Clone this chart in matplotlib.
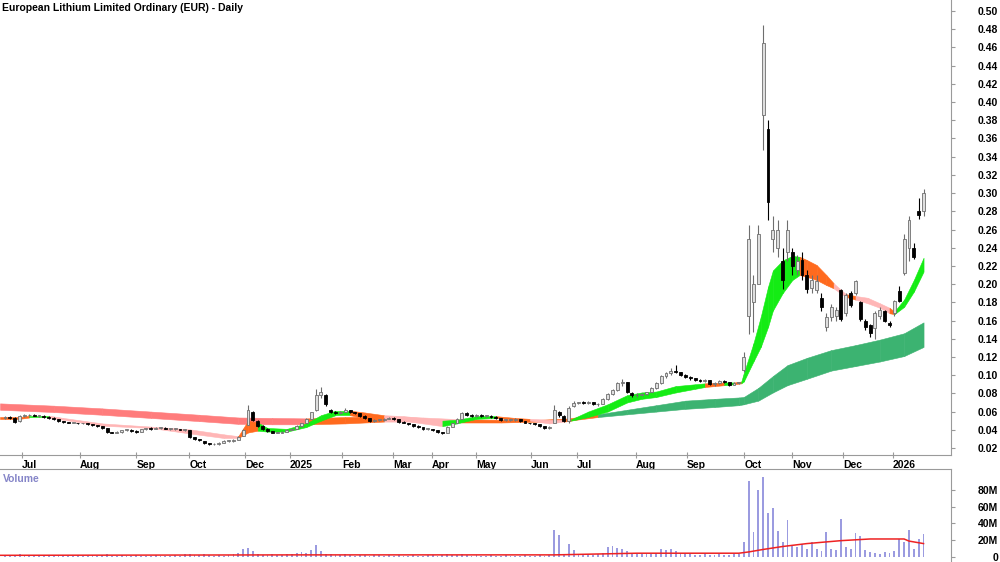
import matplotlib
matplotlib.use("Agg")
import matplotlib.pyplot as plt
import numpy as np

plt.rcParams["font.family"] = ["Liberation Sans", "DejaVu Sans"]

# ---- price data: one candle per two trading days, Jul 2024 .. Jan 2026 ----
opens = [
    0.053, 0.054, 0.053, 0.050, 0.055, 0.056, 0.056, 0.055, 0.055, 0.054,
    0.053, 0.052, 0.050, 0.049, 0.048, 0.048, 0.047, 0.047, 0.046, 0.045,
    0.044, 0.042, 0.038, 0.037, 0.038, 0.040, 0.040, 0.039, 0.038, 0.041,
    0.042, 0.041, 0.042, 0.042, 0.041, 0.041, 0.041, 0.040, 0.040, 0.032,
    0.030, 0.028, 0.025, 0.024, 0.024, 0.026, 0.028, 0.028, 0.029, 0.033,
    0.045, 0.060, 0.050, 0.044, 0.041, 0.039, 0.037, 0.037, 0.038, 0.040,
    0.041, 0.044, 0.047, 0.052, 0.062, 0.078, 0.078, 0.062, 0.060, 0.058,
    0.060, 0.062, 0.059, 0.058, 0.055, 0.053, 0.050, 0.051, 0.051, 0.052,
    0.053, 0.052, 0.049, 0.048, 0.046, 0.044, 0.043, 0.041, 0.041, 0.040,
    0.038, 0.037, 0.043, 0.047, 0.052, 0.058, 0.056, 0.055, 0.056, 0.055,
    0.055, 0.054, 0.053, 0.051, 0.051, 0.051, 0.052, 0.050, 0.048, 0.047,
    0.046, 0.044, 0.042, 0.048, 0.060, 0.055, 0.050, 0.066, 0.069, 0.070,
    0.069, 0.071, 0.068, 0.068, 0.074, 0.079, 0.084, 0.091, 0.092, 0.080,
    0.078, 0.078, 0.079, 0.081, 0.086, 0.091, 0.099, 0.102, 0.105, 0.103,
    0.100, 0.098, 0.097, 0.095, 0.094, 0.095, 0.090, 0.091, 0.094, 0.092,
    0.089, 0.091, 0.106, 0.165, 0.180, 0.200, 0.386, 0.370, 0.250, 0.240,
    0.225, 0.235, 0.235, 0.215, 0.226, 0.210, 0.196, 0.193, 0.185, 0.153,
    0.164, 0.165, 0.193, 0.168, 0.190, 0.190, 0.180, 0.160, 0.155, 0.152,
    0.165, 0.170, 0.157, 0.168, 0.192, 0.212, 0.240, 0.240, 0.280, 0.280,
]
highs = [
    0.055, 0.055, 0.054, 0.056, 0.057, 0.057, 0.057, 0.056, 0.056, 0.055,
    0.054, 0.052, 0.050, 0.049, 0.049, 0.048, 0.048, 0.047, 0.046, 0.045,
    0.044, 0.042, 0.038, 0.039, 0.040, 0.041, 0.041, 0.040, 0.041, 0.042,
    0.043, 0.043, 0.043, 0.043, 0.042, 0.042, 0.041, 0.041, 0.040, 0.032,
    0.030, 0.028, 0.025, 0.025, 0.027, 0.029, 0.029, 0.030, 0.033, 0.041,
    0.067, 0.061, 0.051, 0.045, 0.042, 0.039, 0.038, 0.039, 0.041, 0.042,
    0.045, 0.048, 0.053, 0.060, 0.085, 0.087, 0.079, 0.063, 0.061, 0.061,
    0.064, 0.062, 0.060, 0.058, 0.056, 0.053, 0.052, 0.052, 0.053, 0.054,
    0.054, 0.052, 0.050, 0.048, 0.046, 0.045, 0.043, 0.042, 0.041, 0.040,
    0.038, 0.044, 0.048, 0.053, 0.059, 0.059, 0.057, 0.057, 0.057, 0.056,
    0.056, 0.055, 0.053, 0.052, 0.052, 0.053, 0.052, 0.050, 0.048, 0.047,
    0.046, 0.044, 0.044, 0.067, 0.061, 0.056, 0.066, 0.072, 0.071, 0.072,
    0.072, 0.071, 0.069, 0.075, 0.080, 0.085, 0.092, 0.096, 0.093, 0.081,
    0.080, 0.080, 0.082, 0.087, 0.092, 0.100, 0.104, 0.108, 0.111, 0.104,
    0.101, 0.099, 0.097, 0.096, 0.096, 0.095, 0.092, 0.095, 0.095, 0.092,
    0.092, 0.093, 0.125, 0.265, 0.210, 0.265, 0.485, 0.380, 0.275, 0.270,
    0.240, 0.270, 0.240, 0.232, 0.235, 0.215, 0.210, 0.210, 0.190, 0.168,
    0.178, 0.175, 0.195, 0.190, 0.192, 0.205, 0.182, 0.162, 0.156, 0.170,
    0.175, 0.172, 0.160, 0.183, 0.198, 0.255, 0.275, 0.245, 0.295, 0.305,
]
lows = [
    0.052, 0.052, 0.048, 0.049, 0.054, 0.055, 0.055, 0.054, 0.053, 0.052,
    0.051, 0.049, 0.048, 0.048, 0.047, 0.046, 0.046, 0.045, 0.044, 0.043,
    0.041, 0.037, 0.036, 0.036, 0.037, 0.039, 0.038, 0.037, 0.038, 0.040,
    0.040, 0.041, 0.041, 0.041, 0.040, 0.040, 0.040, 0.039, 0.031, 0.029,
    0.028, 0.024, 0.023, 0.023, 0.023, 0.026, 0.027, 0.027, 0.029, 0.033,
    0.045, 0.050, 0.043, 0.040, 0.038, 0.036, 0.036, 0.036, 0.038, 0.040,
    0.041, 0.043, 0.047, 0.052, 0.061, 0.075, 0.066, 0.058, 0.057, 0.057,
    0.060, 0.058, 0.057, 0.054, 0.052, 0.049, 0.049, 0.050, 0.050, 0.052,
    0.051, 0.048, 0.047, 0.045, 0.043, 0.042, 0.040, 0.040, 0.039, 0.037,
    0.035, 0.037, 0.043, 0.047, 0.052, 0.055, 0.054, 0.054, 0.054, 0.054,
    0.053, 0.052, 0.050, 0.050, 0.050, 0.050, 0.049, 0.047, 0.046, 0.045,
    0.043, 0.041, 0.041, 0.047, 0.054, 0.049, 0.048, 0.065, 0.068, 0.068,
    0.068, 0.067, 0.066, 0.068, 0.073, 0.078, 0.083, 0.088, 0.080, 0.076,
    0.076, 0.077, 0.078, 0.081, 0.085, 0.090, 0.097, 0.100, 0.102, 0.099,
    0.097, 0.095, 0.094, 0.093, 0.093, 0.089, 0.088, 0.090, 0.091, 0.088,
    0.089, 0.090, 0.104, 0.145, 0.147, 0.200, 0.347, 0.270, 0.235, 0.230,
    0.195, 0.225, 0.210, 0.210, 0.205, 0.190, 0.190, 0.190, 0.170, 0.148,
    0.160, 0.160, 0.160, 0.165, 0.175, 0.188, 0.160, 0.150, 0.142, 0.140,
    0.162, 0.158, 0.153, 0.165, 0.180, 0.210, 0.225, 0.228, 0.272, 0.275,
]
closes = [
    0.054, 0.053, 0.049, 0.055, 0.056, 0.056, 0.055, 0.055, 0.054, 0.053,
    0.052, 0.050, 0.049, 0.048, 0.048, 0.047, 0.047, 0.046, 0.045, 0.044,
    0.042, 0.038, 0.037, 0.038, 0.040, 0.040, 0.039, 0.038, 0.041, 0.042,
    0.041, 0.042, 0.042, 0.041, 0.041, 0.041, 0.040, 0.040, 0.032, 0.030,
    0.029, 0.025, 0.024, 0.024, 0.026, 0.028, 0.028, 0.029, 0.032, 0.040,
    0.062, 0.051, 0.044, 0.041, 0.039, 0.037, 0.037, 0.038, 0.040, 0.041,
    0.044, 0.047, 0.052, 0.059, 0.078, 0.082, 0.068, 0.060, 0.058, 0.060,
    0.062, 0.059, 0.058, 0.055, 0.053, 0.050, 0.051, 0.051, 0.052, 0.053,
    0.052, 0.049, 0.048, 0.046, 0.044, 0.043, 0.041, 0.041, 0.040, 0.038,
    0.037, 0.043, 0.047, 0.052, 0.058, 0.056, 0.055, 0.056, 0.055, 0.055,
    0.054, 0.053, 0.051, 0.051, 0.051, 0.052, 0.050, 0.048, 0.047, 0.046,
    0.044, 0.042, 0.043, 0.062, 0.056, 0.050, 0.064, 0.069, 0.070, 0.069,
    0.071, 0.068, 0.068, 0.074, 0.079, 0.084, 0.091, 0.093, 0.081, 0.078,
    0.078, 0.079, 0.081, 0.086, 0.091, 0.099, 0.102, 0.105, 0.103, 0.100,
    0.098, 0.097, 0.095, 0.094, 0.095, 0.090, 0.091, 0.094, 0.092, 0.089,
    0.091, 0.092, 0.120, 0.250, 0.200, 0.255, 0.465, 0.290, 0.260, 0.260,
    0.205, 0.260, 0.220, 0.225, 0.210, 0.195, 0.205, 0.203, 0.175, 0.164,
    0.175, 0.172, 0.162, 0.188, 0.177, 0.203, 0.162, 0.153, 0.146, 0.168,
    0.172, 0.160, 0.155, 0.181, 0.182, 0.250, 0.270, 0.230, 0.276, 0.300,
]
# volume in millions
volumes = [
    1, 2, 1, 3, 2, 1, 2, 1, 1, 2,
    1, 1, 2, 1, 1, 2, 1, 1, 2, 1,
    2, 3, 1, 1, 2, 1, 1, 2, 1, 1,
    1, 2, 1, 1, 1, 2, 1, 3, 4, 2,
    2, 3, 2, 1, 2, 1, 2, 3, 5, 9,
    11, 7, 4, 2, 2, 3, 2, 2, 3, 4,
    5, 6, 5, 8, 14, 7, 4, 3, 2, 2,
    3, 2, 1, 2, 2, 1, 2, 2, 1, 2,
    1, 2, 1, 1, 2, 1, 1, 2, 2, 1,
    2, 3, 2, 2, 3, 2, 1, 2, 1, 1,
    2, 1, 1, 2, 1, 1, 1, 2, 1, 1,
    2, 1, 2, 32, 26, 4, 15, 8, 4, 3,
    3, 2, 3, 5, 12, 13, 11, 10, 7, 4,
    3, 3, 4, 3, 5, 9, 8, 9, 7, 5,
    3, 3, 2, 2, 3, 2, 2, 3, 2, 2,
    3, 3, 18, 91, 30, 80, 95, 52, 59, 31,
    18, 44, 14, 12, 16, 10, 18, 9, 7, 30,
    10, 8, 45, 12, 9, 29, 25, 8, 6, 5,
    4, 6, 5, 7, 22, 18, 32, 10, 21, 28,
]

# moving-average ribbons (knot position in candle units, upper, lower, colour of each span)
short_x = [-1.03, 3, 5, 9, 12, 20, 30, 38, 45, 48, 50, 52, 54, 58, 62, 65, 68, 71, 74, 78,
           82, 86, 90, 93, 97, 101, 105, 108, 112, 115, 116.5, 120, 124, 128, 131, 134, 138,
           142, 144, 148, 150, 151.5, 152, 154, 155.5, 157, 158, 160, 162, 163.5, 165, 167,
           169, 170.5, 173, 175, 177.5, 180, 182, 183, 185, 187, 189]
short_hi = [0.054, 0.054, 0.0555, 0.0555, 0.053, 0.047, 0.0435, 0.0405, 0.035, 0.033, 0.050,
            0.048, 0.042, 0.041, 0.047, 0.056, 0.061, 0.061, 0.059, 0.056, 0.055, 0.053, 0.050,
            0.051, 0.055, 0.055, 0.053, 0.052, 0.051, 0.051, 0.0515, 0.060, 0.068, 0.078, 0.081,
            0.082, 0.088, 0.090, 0.091, 0.092, 0.092, 0.093, 0.102, 0.135, 0.164, 0.197, 0.215,
            0.226, 0.231, 0.230, 0.2265, 0.221, 0.210, 0.201, 0.189, 0.187, 0.185, 0.179, 0.174,
            0.170, 0.183, 0.2045, 0.229]
short_lo = [0.052, 0.052, 0.0535, 0.0535, 0.051, 0.0445, 0.042, 0.036, 0.031, 0.031, 0.037,
            0.039, 0.038, 0.038, 0.043, 0.050, 0.056, 0.056, 0.053, 0.051, 0.050, 0.047, 0.044,
            0.047, 0.052, 0.053, 0.051, 0.050, 0.047, 0.049, 0.050, 0.054, 0.060, 0.070, 0.074,
            0.076, 0.081, 0.085, 0.087, 0.089, 0.090, 0.091, 0.093, 0.115, 0.131, 0.153, 0.171,
            0.190, 0.2045, 0.210, 0.208, 0.2045, 0.199, 0.1954, 0.186, 0.183, 0.179, 0.174,
            0.168, 0.167, 0.175, 0.1917, 0.2137]
short_state = list("oog" + "p" * 6 + "oo" + "g" * 6 + "oo" + "ppp" + "ggg" + "oo" + "pp" + "o"
                   + "g" * 8 + "ogog" + "g" * 7 + "oooo" + "p" + "o" + "ppp" + "o" + "ggg")

long_x = [-1.03, 10, 20, 30, 40, 48, 55, 62, 70, 78, 86, 94, 102, 110, 116, 122, 128, 134,
          140, 146, 151, 152, 155, 158, 161, 165, 170, 175, 180, 185, 189]
long_hi = [0.069, 0.0665, 0.0635, 0.060, 0.0565, 0.0535, 0.053, 0.0525, 0.054, 0.0545, 0.0535,
           0.0515, 0.051, 0.051, 0.0525, 0.057, 0.062, 0.067, 0.072, 0.074, 0.0755, 0.076,
           0.086, 0.099, 0.111, 0.119, 0.1275, 0.133, 0.139, 0.146, 0.158]
long_lo = [0.062, 0.0595, 0.0565, 0.053, 0.0495, 0.0465, 0.046, 0.046, 0.047, 0.049, 0.049,
           0.048, 0.048, 0.049, 0.050, 0.054, 0.057, 0.060, 0.063, 0.065, 0.067, 0.068, 0.072,
           0.081, 0.089, 0.096, 0.105, 0.110, 0.115, 0.121, 0.131]
long_state = list("rrrrrrr" + "oo" + "pp" + "oooo" + "d" * 15)

vol_ma_x = [-1.03, 60, 113, 130, 151, 153, 156, 160, 165, 172, 178, 185, 186, 189]
vol_ma = [2, 2.5, 2.5, 4.5, 4.5, 6, 9, 12.5, 16, 19.5, 21.5, 21.5, 19, 16]

month_pos = [3.5, 15.4, 27.0, 37.9, 49.4, 58.6, 69.3, 79.8, 87.9, 96.9, 108.2, 117.7,
             129.8, 140.3, 152.1, 161.9, 172.4, 182.7]
month_labels = ["Jul", "Aug", "Sep", "Oct", "Dec", "2025", "Feb", "Mar", "Apr", "May", "Jun",
                "Jul", "Aug", "Sep", "Oct", "Nov", "Dec", "2026"]

colours = {
    "g": "#14ec14",
    "o": "#ff6a1e",
    "p": "#ffb6b6",
    "r": "#ff7c7c",
    "d": "#3cb371",
}
axis_grey = "#9a9a9a"

fig = plt.figure(figsize=(10, 5.62), dpi=100)
ax = fig.add_axes([0, 1 - 455 / 562, 0.951, 455 / 562])
axv = fig.add_axes([0, 0, 0.951, 1 - 469 / 562])


def draw_ribbon(axis, xs, hi, lo, states, z):
    for k, s in enumerate(states):
        axis.fill_between(xs[k:k + 2], lo[k:k + 2], hi[k:k + 2], color=colours[s],
                          lw=0.4, zorder=z)


draw_ribbon(ax, long_x, long_hi, long_lo, long_state, 1)
draw_ribbon(ax, short_x, short_hi, short_lo, short_state, 2)

# candles
o = np.array(opens)
h = np.array(highs)
l = np.array(lows)
c = np.array(closes)
x = np.arange(len(c))
up = c >= o
body_lo = np.minimum(o, c)
body_h = np.maximum(np.abs(c - o), 0.0007)
ax.vlines(x[up], l[up], h[up], color="#6e6e6e", lw=0.8, zorder=3)
ax.vlines(x[~up], l[~up], h[~up], color="black", lw=0.8, zorder=3)
ax.bar(x[up], body_h[up], bottom=body_lo[up], width=0.6, color="#dedede",
       edgecolor="#6e6e6e", lw=0.6, zorder=4)
ax.bar(x[~up], body_h[~up], bottom=body_lo[~up], width=0.6, color="black",
       edgecolor="black", lw=0.6, zorder=4)

ax.set_xlim(-1.03, 194.65)
ax.set_ylim(0.0123, 0.5121)
for side in ["top", "left"]:
    ax.spines[side].set_visible(False)
for side in ["bottom", "right"]:
    ax.spines[side].set_color(axis_grey)
ax.yaxis.tick_right()
yt = np.round(np.arange(0.02, 0.501, 0.02), 2)
ax.set_yticks(yt)
ax.set_yticklabels([f"{v:.2f}" for v in yt], fontsize=7.5, fontweight="bold")
ax.tick_params(axis="y", direction="out", length=3, width=0.8, color=axis_grey, pad=31)
for lab in ax.get_yticklabels():
    lab.set_horizontalalignment("right")
ax.set_xticks(month_pos)
ax.set_xticklabels(month_labels, fontsize=7.5, fontweight="bold")
ax.tick_params(axis="x", direction="inout", length=4, width=0.8, color=axis_grey, pad=1.5)
for lab in ax.get_xticklabels():
    lab.set_horizontalalignment("left")

# volume panel
axv.bar(x, volumes, width=0.38, color="#9b9be0", zorder=2)
axv.plot(vol_ma_x, vol_ma, color="#ee2222", lw=1.1, zorder=3)
axv.set_xlim(-1.03, 194.65)
axv.set_ylim(-6.0, 105.1)
for side in ["bottom", "left"]:
    axv.spines[side].set_visible(False)
for side in ["top", "right"]:
    axv.spines[side].set_color(axis_grey)
axv.set_xticks([])
axv.yaxis.tick_right()
vt = [0, 20, 40, 60, 80]
axv.set_yticks(vt)
axv.set_yticklabels(["0", "20M", "40M", "60M", "80M"], fontsize=7.5, fontweight="bold")
axv.tick_params(axis="y", direction="out", length=3, width=0.8, color=axis_grey, pad=31)
for lab in axv.get_yticklabels():
    lab.set_horizontalalignment("right")

fig.text(0.002, 1 - 8 / 562, "European Lithium Limited Ordinary (EUR) - Daily",
         fontsize=7.5, fontweight="bold", va="center", ha="left")
fig.text(0.003, 1 - 478.5 / 562, "Volume", fontsize=7.5, fontweight="bold",
         color="#8585c8", va="center", ha="left")

fig.savefig("out.png", dpi=100)
